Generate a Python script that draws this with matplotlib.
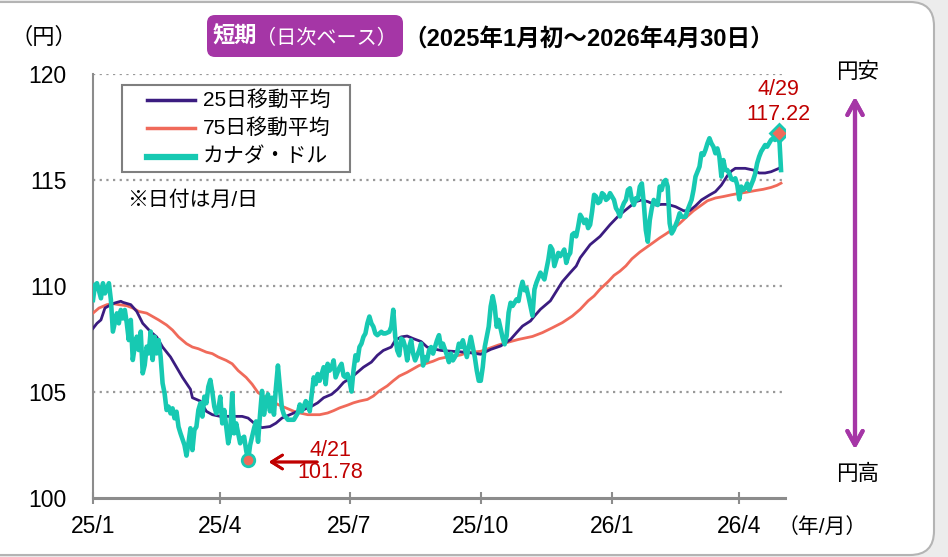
import matplotlib
matplotlib.use("Agg")
import matplotlib.pyplot as plt
import numpy as np
from matplotlib.patches import FancyBboxPatch, Rectangle

plt.rcParams["font.family"] = ["Liberation Sans", "Noto Sans CJK JP"]

START = "2025-01-01"

cad_dates = [
    "2025-01-01", "2025-01-02", "2025-01-03", "2025-01-07", "2025-01-08", "2025-01-09", "2025-01-10",
    "2025-01-13", "2025-01-14", "2025-01-15", "2025-01-17", "2025-01-20", "2025-01-21", "2025-01-22",
    "2025-01-23", "2025-01-24", "2025-01-27", "2025-01-28", "2025-01-29", "2025-01-30", "2025-01-31",
    "2025-02-03", "2025-02-04", "2025-02-05", "2025-02-06", "2025-02-07", "2025-02-10", "2025-02-11",
    "2025-02-12", "2025-02-13", "2025-02-14", "2025-02-17", "2025-02-18", "2025-02-19", "2025-02-20",
    "2025-02-21", "2025-02-24", "2025-02-25", "2025-02-26", "2025-02-27", "2025-02-28", "2025-03-03",
    "2025-03-04", "2025-03-06", "2025-03-07", "2025-03-10", "2025-03-11", "2025-03-12", "2025-03-13",
    "2025-03-14", "2025-03-17", "2025-03-18", "2025-03-19", "2025-03-20", "2025-03-21", "2025-03-24",
    "2025-03-25", "2025-03-26", "2025-03-27", "2025-03-28", "2025-03-31", "2025-04-01", "2025-04-02",
    "2025-04-03", "2025-04-04", "2025-04-07", "2025-04-08", "2025-04-09", "2025-04-10", "2025-04-11",
    "2025-04-14", "2025-04-15", "2025-04-16", "2025-04-17", "2025-04-18", "2025-04-21", "2025-04-22",
    "2025-04-24", "2025-04-25", "2025-04-28", "2025-04-29", "2025-04-30", "2025-05-01", "2025-05-02",
    "2025-05-05", "2025-05-06", "2025-05-07", "2025-05-08", "2025-05-09", "2025-05-12", "2025-05-13",
    "2025-05-14", "2025-05-15", "2025-05-19", "2025-05-22", "2025-05-26", "2025-05-27", "2025-05-28",
    "2025-05-30", "2025-06-02", "2025-06-03", "2025-06-04", "2025-06-05", "2025-06-06", "2025-06-09",
    "2025-06-10", "2025-06-12", "2025-06-13", "2025-06-16", "2025-06-17", "2025-06-18", "2025-06-19",
    "2025-06-20", "2025-06-24", "2025-06-25", "2025-06-26", "2025-06-27", "2025-06-30", "2025-07-01",
    "2025-07-02", "2025-07-03", "2025-07-04", "2025-07-07", "2025-07-08", "2025-07-09", "2025-07-10",
    "2025-07-11", "2025-07-14", "2025-07-15", "2025-07-16", "2025-07-17", "2025-07-18", "2025-07-21",
    "2025-07-23", "2025-07-24", "2025-07-25", "2025-07-29", "2025-07-30", "2025-07-31", "2025-08-01",
    "2025-08-04", "2025-08-05", "2025-08-06", "2025-08-07", "2025-08-08", "2025-08-11", "2025-08-12",
    "2025-08-13", "2025-08-14", "2025-08-15", "2025-08-19", "2025-08-20", "2025-08-21", "2025-08-22",
    "2025-08-25", "2025-08-26", "2025-08-27", "2025-08-28", "2025-09-01", "2025-09-02", "2025-09-03",
    "2025-09-04", "2025-09-08", "2025-09-09", "2025-09-10", "2025-09-11", "2025-09-15", "2025-09-16",
    "2025-09-17", "2025-09-18", "2025-09-22", "2025-09-23", "2025-09-24", "2025-09-25", "2025-09-26",
    "2025-09-29", "2025-09-30", "2025-10-01", "2025-10-02", "2025-10-03", "2025-10-07", "2025-10-08",
    "2025-10-09", "2025-10-10", "2025-10-13", "2025-10-14", "2025-10-16", "2025-10-17", "2025-10-20",
    "2025-10-21", "2025-10-22", "2025-10-23", "2025-10-27", "2025-10-28", "2025-10-29", "2025-10-30",
    "2025-10-31", "2025-11-03", "2025-11-04", "2025-11-05", "2025-11-06", "2025-11-07", "2025-11-10",
    "2025-11-12", "2025-11-13", "2025-11-14", "2025-11-17", "2025-11-18", "2025-11-19", "2025-11-20",
    "2025-11-21", "2025-11-24", "2025-11-25", "2025-11-26", "2025-11-27", "2025-11-28", "2025-12-01",
    "2025-12-02", "2025-12-03", "2025-12-04", "2025-12-05", "2025-12-08", "2025-12-09", "2025-12-10",
    "2025-12-11", "2025-12-12", "2025-12-15", "2025-12-16", "2025-12-17", "2025-12-18", "2025-12-19",
    "2025-12-22", "2025-12-23", "2025-12-24", "2025-12-25", "2025-12-26", "2025-12-29", "2025-12-30",
    "2025-12-31", "2026-01-01", "2026-01-02", "2026-01-05", "2026-01-06", "2026-01-07", "2026-01-08",
    "2026-01-09", "2026-01-12", "2026-01-13", "2026-01-14", "2026-01-15", "2026-01-16", "2026-01-19",
    "2026-01-20", "2026-01-21", "2026-01-22", "2026-01-23", "2026-01-26", "2026-01-27", "2026-01-28",
    "2026-01-29", "2026-01-30", "2026-02-02", "2026-02-03", "2026-02-04", "2026-02-05", "2026-02-06",
    "2026-02-09", "2026-02-10", "2026-02-11", "2026-02-12", "2026-02-13", "2026-02-17", "2026-02-18",
    "2026-02-19", "2026-02-23", "2026-02-24", "2026-02-26", "2026-02-27", "2026-03-02", "2026-03-03",
    "2026-03-04", "2026-03-05", "2026-03-06", "2026-03-09", "2026-03-10", "2026-03-11", "2026-03-12",
    "2026-03-13", "2026-03-16", "2026-03-17", "2026-03-18", "2026-03-19", "2026-03-20", "2026-03-23",
    "2026-03-24", "2026-03-25", "2026-03-26", "2026-03-27", "2026-03-30", "2026-03-31", "2026-04-01",
    "2026-04-02", "2026-04-03", "2026-04-06", "2026-04-07", "2026-04-08", "2026-04-09", "2026-04-10",
    "2026-04-13", "2026-04-14", "2026-04-15", "2026-04-16", "2026-04-17", "2026-04-20", "2026-04-21",
    "2026-04-22", "2026-04-23", "2026-04-24", "2026-04-27", "2026-04-28", "2026-04-29", "2026-04-30",
]
cad_values = [
    109.34, 110.05, 110.13, 109.42, 110.13, 109.65, 109.89,
    110.13, 109.34, 107.85, 108.71, 108.24, 108.87, 108.47,
    108.87, 108.24, 107.45, 108.40, 106.51, 107.14, 107.61,
    106.98, 107.85, 105.88, 106.27, 107.14, 106.82, 107.85,
    106.51, 107.61, 106.82, 107.45, 106.67, 105.41, 104.94,
    104.15, 104.31, 103.99, 104.23, 103.76, 104.07, 103.36,
    103.05, 102.50, 102.00, 102.58, 103.29, 102.26, 103.21,
    103.36, 104.15, 104.47, 103.84, 104.78, 104.47, 105.25,
    105.57, 105.01, 104.31, 103.99, 104.15, 104.78, 103.52,
    104.15, 103.36, 102.58, 103.05, 104.94, 103.05, 103.52,
    103.05, 102.58, 102.81, 102.89, 102.26, 101.78, 102.49,
    103.29, 103.61, 102.65, 103.93, 105.05, 103.93, 104.57,
    104.89, 104.09, 104.73, 103.93, 105.21, 106.25, 105.21,
    104.25, 103.93, 103.69, 103.69, 104.01, 104.41, 104.09,
    104.57, 104.41, 104.09, 104.89, 105.69, 105.37, 105.85,
    105.53, 106.17, 105.37, 106.33, 106.01, 106.17, 106.49,
    105.69, 106.17, 106.33, 105.77, 105.69, 105.85, 105.53,
    105.02, 106.01, 106.73, 106.49, 107.12, 107.28, 107.60,
    107.76, 108.24, 108.56, 108.24, 108.08, 107.76, 107.68,
    107.84, 107.76, 107.76, 107.84, 108.08, 108.88, 107.60,
    106.96, 106.73, 107.52, 107.44, 107.12, 106.49, 107.12,
    107.44, 106.81, 106.49, 106.96, 107.28, 106.25, 106.65,
    106.49, 106.96, 107.12, 106.81, 107.44, 107.68, 107.12,
    107.28, 106.73, 106.41, 106.81, 106.49, 106.81, 107.28,
    107.12, 107.44, 106.65, 107.12, 107.60, 107.12, 106.65,
    106.01, 105.53, 105.53, 106.17, 107.12, 108.08, 109.04,
    109.52, 109.04, 108.08, 108.40, 107.56, 107.25, 107.64,
    108.74, 109.21, 109.06, 109.37, 109.29, 109.84, 110.20,
    109.80, 109.90, 109.50, 109.06, 108.60, 109.84, 110.16,
    110.63, 110.47, 110.31, 110.78, 111.25, 111.88, 111.72,
    110.94, 111.25, 111.56, 111.41, 111.56, 111.72, 111.09,
    111.41, 111.56, 112.42, 112.50, 112.34, 112.81, 113.36,
    113.20, 112.97, 113.13, 112.73, 112.89, 113.52, 114.30,
    114.22, 113.91, 113.98, 114.38, 114.30, 114.06, 114.14,
    114.38, 114.22, 114.06, 113.67, 113.52, 113.28, 113.67,
    113.91, 114.06, 114.53, 114.61, 114.06, 113.82, 114.14,
    114.09, 114.69, 114.84, 113.90, 112.64, 112.09, 113.11,
    113.66, 114.06, 113.90, 113.82, 114.69, 114.53, 114.92,
    115.00, 114.69, 112.96, 112.48, 112.64, 113.11, 113.43,
    113.27, 113.27, 113.58, 114.06, 114.53, 115.16, 115.39,
    115.63, 116.26, 116.18, 116.42, 116.73, 116.97, 116.73,
    116.57, 116.26, 116.49, 116.10, 115.16, 115.94, 115.47,
    115.47, 115.31, 115.05, 115.00, 115.08, 114.76, 114.09,
    114.69, 114.53, 114.61, 114.84, 114.53, 114.76, 115.00,
    115.30, 115.79, 116.10, 116.34, 116.49, 116.65, 116.57,
    116.73, 116.89, 116.97, 116.89, 117.04, 117.22, 115.47,
]

ma25_dates = [
    "2025-01-01", "2025-01-03", "2025-01-07", "2025-01-09", "2025-01-14", "2025-01-16", "2025-01-21",
    "2025-01-22", "2025-01-28", "2025-01-31", "2025-02-05", "2025-02-11", "2025-02-14", "2025-02-19",
    "2025-02-25", "2025-02-28", "2025-03-05", "2025-03-11", "2025-03-12", "2025-03-18", "2025-03-21",
    "2025-03-26", "2025-04-01", "2025-04-04", "2025-04-09", "2025-04-16", "2025-04-21", "2025-04-25",
    "2025-04-30", "2025-05-06", "2025-05-09", "2025-05-14", "2025-05-20", "2025-05-26", "2025-05-29",
    "2025-06-04", "2025-06-09", "2025-06-12", "2025-06-18", "2025-06-23", "2025-06-26", "2025-07-02",
    "2025-07-07", "2025-07-10", "2025-07-16", "2025-07-21", "2025-07-24", "2025-07-30", "2025-08-01",
    "2025-08-06", "2025-08-11", "2025-08-14", "2025-08-20", "2025-08-25", "2025-08-28", "2025-09-03",
    "2025-09-09", "2025-09-16", "2025-09-23", "2025-10-01", "2025-10-08", "2025-10-15", "2025-10-22",
    "2025-10-27", "2025-10-30", "2025-11-05", "2025-11-07", "2025-11-12", "2025-11-17", "2025-11-19",
    "2025-11-24", "2025-11-27", "2025-12-03", "2025-12-08", "2025-12-10", "2025-12-17", "2025-12-24",
    "2025-12-31", "2026-01-06", "2026-01-09", "2026-01-14", "2026-01-19", "2026-01-22", "2026-01-27",
    "2026-02-02", "2026-02-05", "2026-02-10", "2026-02-16", "2026-02-20", "2026-02-25", "2026-03-02",
    "2026-03-05", "2026-03-11", "2026-03-16", "2026-03-19", "2026-03-24", "2026-03-26", "2026-03-30",
    "2026-04-06", "2026-04-10", "2026-04-15", "2026-04-20", "2026-04-23", "2026-04-29", "2026-04-30",
]
ma25_values = [
    108.00, 108.24, 108.40, 108.96, 109.12, 109.20, 109.28,
    109.23, 109.12, 108.80, 108.24, 107.84, 107.60, 107.12,
    106.65, 106.17, 105.69, 105.13, 104.73, 104.57, 104.09,
    103.93, 103.85, 103.85, 103.85, 103.85, 103.77, 103.45,
    103.32, 103.37, 103.53, 103.77, 103.93, 104.09, 104.17,
    104.33, 104.49, 104.73, 104.89, 105.13, 105.45, 105.69,
    105.93, 106.17, 106.41, 106.73, 106.96, 107.12, 107.44,
    107.60, 107.64, 107.52, 107.38, 107.12, 107.04, 106.96,
    106.93, 106.90, 106.86, 106.78, 107.01, 107.17, 107.48,
    107.80, 108.11, 108.35, 108.58, 108.90, 109.14, 109.30,
    109.75, 110.20, 110.63, 110.94, 111.33, 111.95, 112.34,
    112.89, 113.28, 113.52, 113.75, 113.98, 114.06, 113.98,
    113.82, 113.85, 113.85, 113.74, 113.55, 113.55, 113.78,
    114.06, 114.29, 114.45, 114.76, 115.20, 115.42, 115.55,
    115.55, 115.47, 115.33, 115.33, 115.39, 115.55, 115.63,
]

ma75_dates = [
    "2025-01-01", "2025-01-06", "2025-01-10", "2025-01-15", "2025-01-20", "2025-01-24", "2025-01-29",
    "2025-02-03", "2025-02-07", "2025-02-12", "2025-02-17", "2025-02-21", "2025-02-26", "2025-03-03",
    "2025-03-07", "2025-03-12", "2025-03-17", "2025-03-21", "2025-03-26", "2025-03-31", "2025-04-04",
    "2025-04-09", "2025-04-14", "2025-04-18", "2025-04-23", "2025-04-28", "2025-05-02", "2025-05-07",
    "2025-05-12", "2025-05-16", "2025-05-22", "2025-05-27", "2025-06-02", "2025-06-05", "2025-06-10",
    "2025-06-16", "2025-06-19", "2025-06-24", "2025-06-30", "2025-07-03", "2025-07-08", "2025-07-14",
    "2025-07-17", "2025-07-22", "2025-07-28", "2025-07-31", "2025-08-05", "2025-08-11", "2025-08-14",
    "2025-08-19", "2025-08-25", "2025-08-28", "2025-09-02", "2025-09-08", "2025-09-11", "2025-09-17",
    "2025-09-22", "2025-09-25", "2025-10-01", "2025-10-07", "2025-10-14", "2025-10-20", "2025-10-28",
    "2025-11-06", "2025-11-13", "2025-11-20", "2025-11-27", "2025-12-04", "2025-12-10", "2025-12-16",
    "2025-12-19", "2025-12-24", "2025-12-30", "2026-01-02", "2026-01-07", "2026-01-12", "2026-01-15",
    "2026-01-21", "2026-01-26", "2026-01-29", "2026-02-04", "2026-02-09", "2026-02-12", "2026-02-18",
    "2026-02-24", "2026-02-27", "2026-03-04", "2026-03-10", "2026-03-16", "2026-03-20", "2026-03-26",
    "2026-04-01", "2026-04-07", "2026-04-13", "2026-04-17", "2026-04-23", "2026-04-28", "2026-04-30",
]
ma75_values = [
    108.72, 108.96, 109.12, 109.17, 109.12, 109.07, 108.96,
    108.80, 108.72, 108.56, 108.40, 108.16, 107.92, 107.60,
    107.28, 107.12, 107.04, 106.88, 106.81, 106.65, 106.49,
    106.33, 106.01, 105.69, 105.37, 104.97, 104.73, 104.57,
    104.41, 104.25, 104.09, 104.01, 103.93, 103.93, 103.93,
    104.01, 104.12, 104.25, 104.38, 104.49, 104.57, 104.65,
    104.81, 105.05, 105.29, 105.53, 105.75, 105.93, 106.09,
    106.25, 106.36, 106.45, 106.57, 106.65, 106.68, 106.75,
    106.85, 106.88, 106.92, 107.05, 107.22, 107.33, 107.48,
    107.62, 107.80, 108.03, 108.27, 108.58, 108.90, 109.30,
    109.53, 109.85, 110.20, 110.50, 110.70, 110.95, 111.28,
    111.60, 111.80, 112.00, 112.27, 112.45, 112.64, 112.95,
    113.30, 113.55, 113.75, 114.02, 114.15, 114.22, 114.30,
    114.37, 114.43, 114.50, 114.56, 114.65, 114.75, 114.85,
]

tick_dates = ["2025-01-01", "2025-04-01", "2025-07-01", "2025-10-01", "2026-01-01", "2026-04-01"]
tick_labels = ["25/1", "25/4", "25/7", "25/10", "26/1", "26/4"]
legend_labels = ["25日移動平均", "75日移動平均", "カナダ・ドル"]

low_date, low_value, low_label = "2025-04-21", 101.78, "4/21"
high_date, high_value, high_label = "2026-04-29", 117.22, "4/29"

TEAL = "#17c9b2"
PURPLE = "#3b1c80"
SALMON = "#f06a5a"
RED = "#c00000"
MAGENTA = "#a536a6"
W, H = 948, 557


def bday(dates):
    # business-day position, which is how the source chart spaces its dates
    return np.busday_count(START, np.array(dates, dtype="datetime64[D]"))


def fx(px):
    return px / W


def fy(py):
    return 1 - py / H


fig = plt.figure(figsize=(W / 100, H / 100), dpi=100, facecolor="#ececec")

# white rounded panel behind everything
panel = FancyBboxPatch((-40, 2), 974, 553, boxstyle="round,pad=0,rounding_size=24",
                       transform=None, facecolor="white", edgecolor="#b4b4b4", lw=1.5, zorder=-10)
fig.patches.append(panel)

ax = fig.add_axes([fx(93), fy(498), (785 - 93) / W, (498 - 74) / H])
ax.set_facecolor("none")

ax.plot(bday(ma75_dates), ma75_values, color=SALMON, lw=2.0, zorder=3)
ax.plot(bday(ma25_dates), ma25_values, color=PURPLE, lw=2.0, zorder=4)
ax.plot(bday(cad_dates), cad_values, color=TEAL, lw=3.3, zorder=5, solid_joinstyle="round")

ax.plot(bday([low_date]), [low_value], "o", ms=9, mfc=SALMON, mec=TEAL, mew=2, zorder=6)
ax.plot(bday([high_date]), [high_value], "D", ms=9, mfc=SALMON, mec=TEAL, mew=2, zorder=6)

ax.set_xlim(0, 348)
ax.set_ylim(100, 120)
ax.set_yticks([100, 105, 110, 115, 120])
ax.set_xticks(bday(tick_dates))
ax.set_xticklabels(tick_labels)
ax.tick_params(axis="y", length=0, pad=19, labelsize=16.5)
ax.tick_params(axis="x", direction="inout", length=9, width=1.5, color="#8c8c8c",
               pad=8, labelsize=16.5)

for y in [105, 110, 115, 120]:
    ax.axhline(y, color="#999999", lw=1.6, ls=(0, (1, 2)), zorder=1)

for side in ["top", "right"]:
    ax.spines[side].set_visible(False)
ax.spines["left"].set_color("#8c8c8c")
ax.spines["left"].set_linewidth(1.5)
ax.spines["bottom"].set_color("#8c8c8c")
ax.spines["bottom"].set_linewidth(2.2)

# legend box drawn by hand so its spacing follows the reference
fig.patches.append(Rectangle((122, H - 172), 228, 87, transform=None, facecolor="white",
                             edgecolor="#7f7f7f", lw=1.5, zorder=7))
for row_y, color, lw, label in zip([100, 128, 157], [PURPLE, SALMON, TEAL], [2.5, 2.5, 4.5],
                                   legend_labels):
    fig.add_artist(plt.Line2D([fx(147), fx(195)], [fy(row_y), fy(row_y)], color=color, lw=lw,
                              zorder=8))
    fig.text(fx(203), fy(row_y), label, fontsize=15, ha="left", va="center", zorder=8)

fig.text(fx(127), fy(200), "※日付は月/日", fontsize=15, va="center", ha="left")

# annotations for the low and the high
fig.text(fx(330), fy(451), low_label, color=RED, fontsize=15.5, ha="center", va="center")
fig.text(fx(330), fy(473), f"{low_value:.2f}", color=RED, fontsize=15.5, ha="center", va="center")
fig.text(fx(778), fy(90), high_label, color=RED, fontsize=15.5, ha="center", va="center")
fig.text(fx(778), fy(115), f"{high_value:.2f}", color=RED, fontsize=15.5, ha="center", va="center")
fig.add_artist(plt.annotate("", xy=(fx(266), fy(462)), xytext=(fx(320), fy(462)),
                            xycoords="figure fraction", textcoords="figure fraction",
                            arrowprops=dict(arrowstyle="->,head_length=0.8,head_width=0.5",
                                            color=RED, lw=2)))

# yen direction arrow
fig.add_artist(plt.annotate("", xy=(fx(855), fy(94)), xytext=(fx(855), fy(452)),
                            xycoords="figure fraction", textcoords="figure fraction",
                            arrowprops=dict(arrowstyle="<->,head_length=1.0,head_width=0.55",
                                            color=MAGENTA, lw=3)))
fig.text(fx(858), fy(72), "円安", fontsize=15.5, ha="center", va="center")
fig.text(fx(858), fy(474), "円高", fontsize=15.5, ha="center", va="center")

fig.text(fx(44), fy(38), "（円）", fontsize=16, ha="center", va="center")
fig.text(fx(822), fy(527), "（年/月）", fontsize=15, ha="center", va="center")

# title
title_box = FancyBboxPatch((207, H - 57), 196, 42, boxstyle="round,pad=0,rounding_size=8",
                           transform=None, facecolor=MAGENTA, edgecolor="none", zorder=5)
fig.patches.append(title_box)
fig.text(fx(213), fy(37), "短期", fontsize=16, color="white", ha="left", va="center",
         fontweight="bold", zorder=6)
fig.text(fx(256), fy(38), "（日次ベース）", fontsize=14.5, color="white", ha="left", va="center",
         zorder=6)
fig.text(fx(403), fy(39), "（2025年1月初～2026年4月30日）", fontsize=17, fontweight="bold",
         ha="left", va="center")

fig.savefig("out.png", dpi=100, facecolor=fig.get_facecolor())
